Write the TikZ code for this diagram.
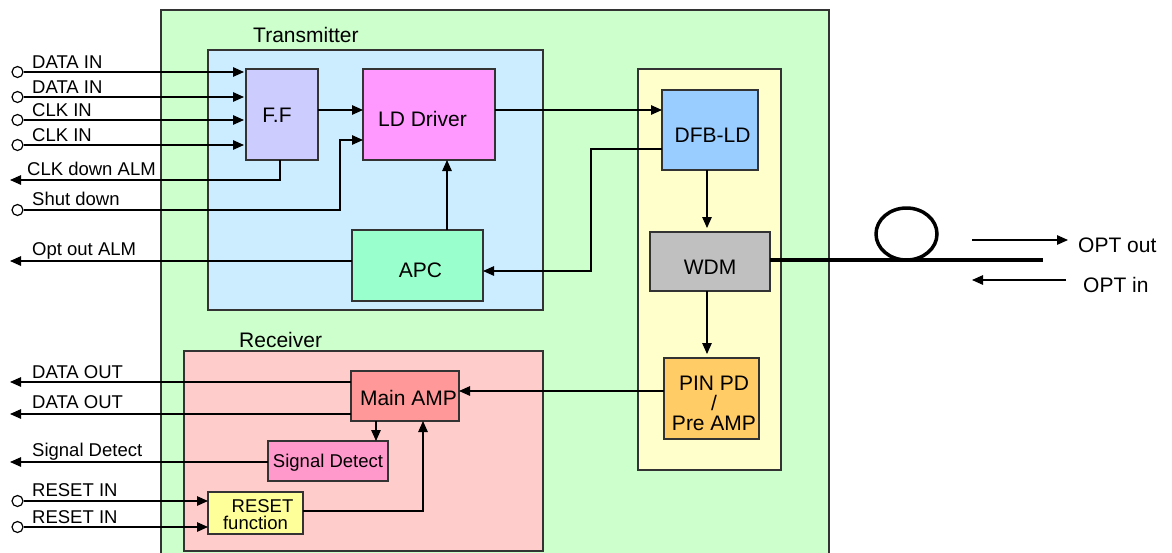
\documentclass[tikz,border=0pt]{standalone}
\usepackage{fontspec}
\setmainfont{Liberation Sans}
\usetikzlibrary{arrows.meta}
\definecolor{cgreen}{HTML}{CCFFCC}
\definecolor{ctx}{HTML}{CCECFF}
\definecolor{cff}{HTML}{CCCCFF}
\definecolor{cld}{HTML}{FF99FF}
\definecolor{capc}{HTML}{99FFCC}
\definecolor{cyel}{HTML}{FFFFCC}
\definecolor{cdfb}{HTML}{99CCFF}
\definecolor{cwdm}{HTML}{C0C0C0}
\definecolor{cpin}{HTML}{FFCC66}
\definecolor{crx}{HTML}{FFCCCC}
\definecolor{cmain}{HTML}{FF9999}
\definecolor{csig}{HTML}{FF99CC}
\definecolor{crst}{HTML}{FFFF99}
\definecolor{cedge}{HTML}{333333}
\begin{document}
\begin{tikzpicture}[x=1pt,y=-1pt,
  big/.style={font=\fontsize{21}{20}\selectfont},
  small/.style={font=\fontsize{18.5}{17}\selectfont},
  frame/.style={draw=cedge, line width=1.6pt, anchor=north west, inner sep=0pt, outer sep=0pt},
  blk/.style={draw=cedge, line width=1.5pt, anchor=north west, inner sep=0pt, outer sep=0pt, align=center, big},
  tb/.style={text height=#1, text depth=0pt},
  ln/.style={line width=1.3pt, draw=black},
  arr/.style={ln, -{Triangle[length=11pt,width=9.5pt]}},
  port/.style={circle, draw=black, line width=1.2pt, fill=white, minimum size=11pt, inner sep=0pt},
  sig/.style={anchor=base west, small, inner sep=0pt},
  ttl/.style={anchor=base west, big, inner sep=0pt},
]
\useasboundingbox (0,0) rectangle (1172,552);
\fill[white] (0,0) rectangle (1172,552);

% containers
\node[frame, fill=cgreen, minimum width=668pt, minimum height=560pt] (board) at (161,10) {};
\node[frame, fill=ctx, minimum width=335pt, minimum height=260pt] (tx) at (208,50) {};
\node[frame, fill=cyel, minimum width=143pt, minimum height=401pt] (opt) at (638,69) {};
\node[frame, fill=crx, minimum width=359pt, minimum height=200pt] (rx) at (184,351) {};
\node[ttl] (txl) at (253,42) {Transmitter};
\node[ttl] (rxl) at (239,347) {Receiver};

% blocks
\node[blk, fill=cff, minimum width=72pt, minimum height=91pt, tb=15pt] (ff) at (246,69) {F.F\hspace*{10pt}};
\node[blk, fill=cld, minimum width=132pt, minimum height=91pt, tb=23pt] (ld) at (363,69) {LD Driver\hspace*{13pt}};
\node[blk, fill=capc, minimum width=131pt, minimum height=71pt, tb=24pt] (apc) at (352,230) {\hspace*{6pt}APC};
\node[blk, fill=cdfb, minimum width=96pt, minimum height=80pt, tb=24pt] (dfb) at (662,90) {\hspace*{5pt}DFB-LD};
\node[blk, fill=cwdm, minimum width=120pt, minimum height=59pt, tb=25pt] (wdm) at (650,232) {WDM};
\node[blk, fill=cpin, minimum width=95pt, minimum height=81pt] (pin) at (664,358) {\rule{0pt}{25pt}\hspace*{5pt}PIN PD\\\hspace*{5pt}/\\\hspace*{5pt}Pre AMP};
\node[blk, fill=cmain, minimum width=108pt, minimum height=50pt, tb=18pt] (main) at (351,371) {\hspace*{7pt}Main AMP};
\node[blk, small, fill=csig, minimum width=120pt, minimum height=40pt, tb=12pt] (sigd) at (268,441) {Signal Detect};
\node[blk, small, fill=crst, minimum width=95pt, minimum height=42pt] (rst) at (208,492) {\rule{0pt}{17pt}\hspace*{14pt}RESET\\function};

% helper coordinates
\coordinate (y110) at (0,110);
\coordinate (y140) at (0,140);
\coordinate (y149) at (0,149);
\coordinate (y261) at (0,261);
\coordinate (y260) at (0,260);
\coordinate (y271) at (0,271);
\coordinate (y382) at (0,382);
\coordinate (y414) at (0,414);
\coordinate (y391) at (0,391);
\coordinate (y462) at (0,462);
\coordinate (y511) at (0,511);
\coordinate (x447) at (447,0);
\coordinate (x707) at (707,0);
\coordinate (x376) at (376,0);
\coordinate (x423) at (423,0);

% transmitter inputs
\foreach \i/\y/\t in {1/72/DATA IN, 2/97/DATA IN, 3/120/CLK IN, 4/145/CLK IN} {
  \node[port] (in\i) at (17.5,\y) {};
  \node[sig] (inl\i) at (32,\y-4) {\t};
  \draw[arr, shorten >=2pt] (in\i) -- (in\i -| ff.west);
}
% CLK down ALM
\coordinate (alm1) at (10,180);
\node[sig] (alml) at (27,175) {CLK down ALM};
\draw[arr] ([xshift=-2pt]ff.south) |- (alm1);
% Shut down
\node[port] (sdp) at (17.5,210) {};
\node[sig] (sdl) at (32,205) {Shut down};
\coordinate (sdb) at (340,210);
\draw[arr] (sdp) -- (sdb) |- (ld.west |- y140);
% FF -> LD, LD -> DFB
\draw[arr] (ff.east |- y110) -- (ld.west |- y110);
\draw[arr] (ld.east |- y110) -- (dfb.west |- y110);
% APC -> LD
\draw[arr] (apc.north -| x447) -- (ld.south -| x447);
% Opt out ALM
\coordinate (oalm) at (10,261);
\node[sig] (oalml) at (32,255) {Opt out ALM};
\draw[arr] (apc.west |- y261) -- (oalm);
% DFB -> APC monitor
\coordinate (k1) at (591,149);
\coordinate (k2) at (591,271);
\draw[arr] (dfb.west |- y149) -- (k1) -- (k2) -- (apc.east |- y271);
% DFB -> WDM -> PIN
\draw[arr, shorten >=4pt] (dfb.south -| x707) -- (wdm.north -| x707);
\draw[arr, shorten >=4pt] (wdm.south -| x707) -- (pin.north -| x707);
% fiber
\coordinate (fend) at (1043,260);
\draw[line width=4pt] (wdm.east |- y260) -- (fend);
\draw[line width=3.5pt] (906.5,234) ellipse [x radius=30.5, y radius=26];
% OPT arrows
\coordinate (oo1) at (972,240);
\coordinate (oo2) at (1068,240);
\coordinate (oi1) at (1066,280);
\coordinate (oi2) at (972,280);
\draw[arr] (oo1) -- (oo2);
\draw[arr] (oi1) -- (oi2);
\node[ttl] (optout) at (1078,252) {OPT out};
\node[ttl] (optin) at (1083,292) {OPT in};

% receiver
\coordinate (do1) at (10,382);
\coordinate (do2) at (10,414);
\node[sig] (dol1) at (32,378) {DATA OUT};
\node[sig] (dol2) at (32,408) {DATA OUT};
\draw[arr] (main.west |- y382) -- (do1);
\draw[arr] (main.west |- y414) -- (do2);
\draw[arr] (pin.west |- y391) -- (main.east |- y391);
\draw[arr] (main.south -| x376) -- (sigd.north -| x376);
\coordinate (sdo) at (10,462);
\node[sig] (sdol) at (32,456) {Signal Detect};
\draw[arr] (sigd.west |- y462) -- (sdo);
\foreach \i/\y/\b in {1/501/496, 2/527/523} {
  \node[port] (rp\i) at (17.5,\y) {};
  \node[sig] (rpl\i) at (32,\b) {RESET IN};
  \draw[arr] (rp\i) -- (rp\i -| rst.west);
}
\draw[arr] (rst.east |- y511) -| (main.south -| x423);
\end{tikzpicture}
\end{document}
